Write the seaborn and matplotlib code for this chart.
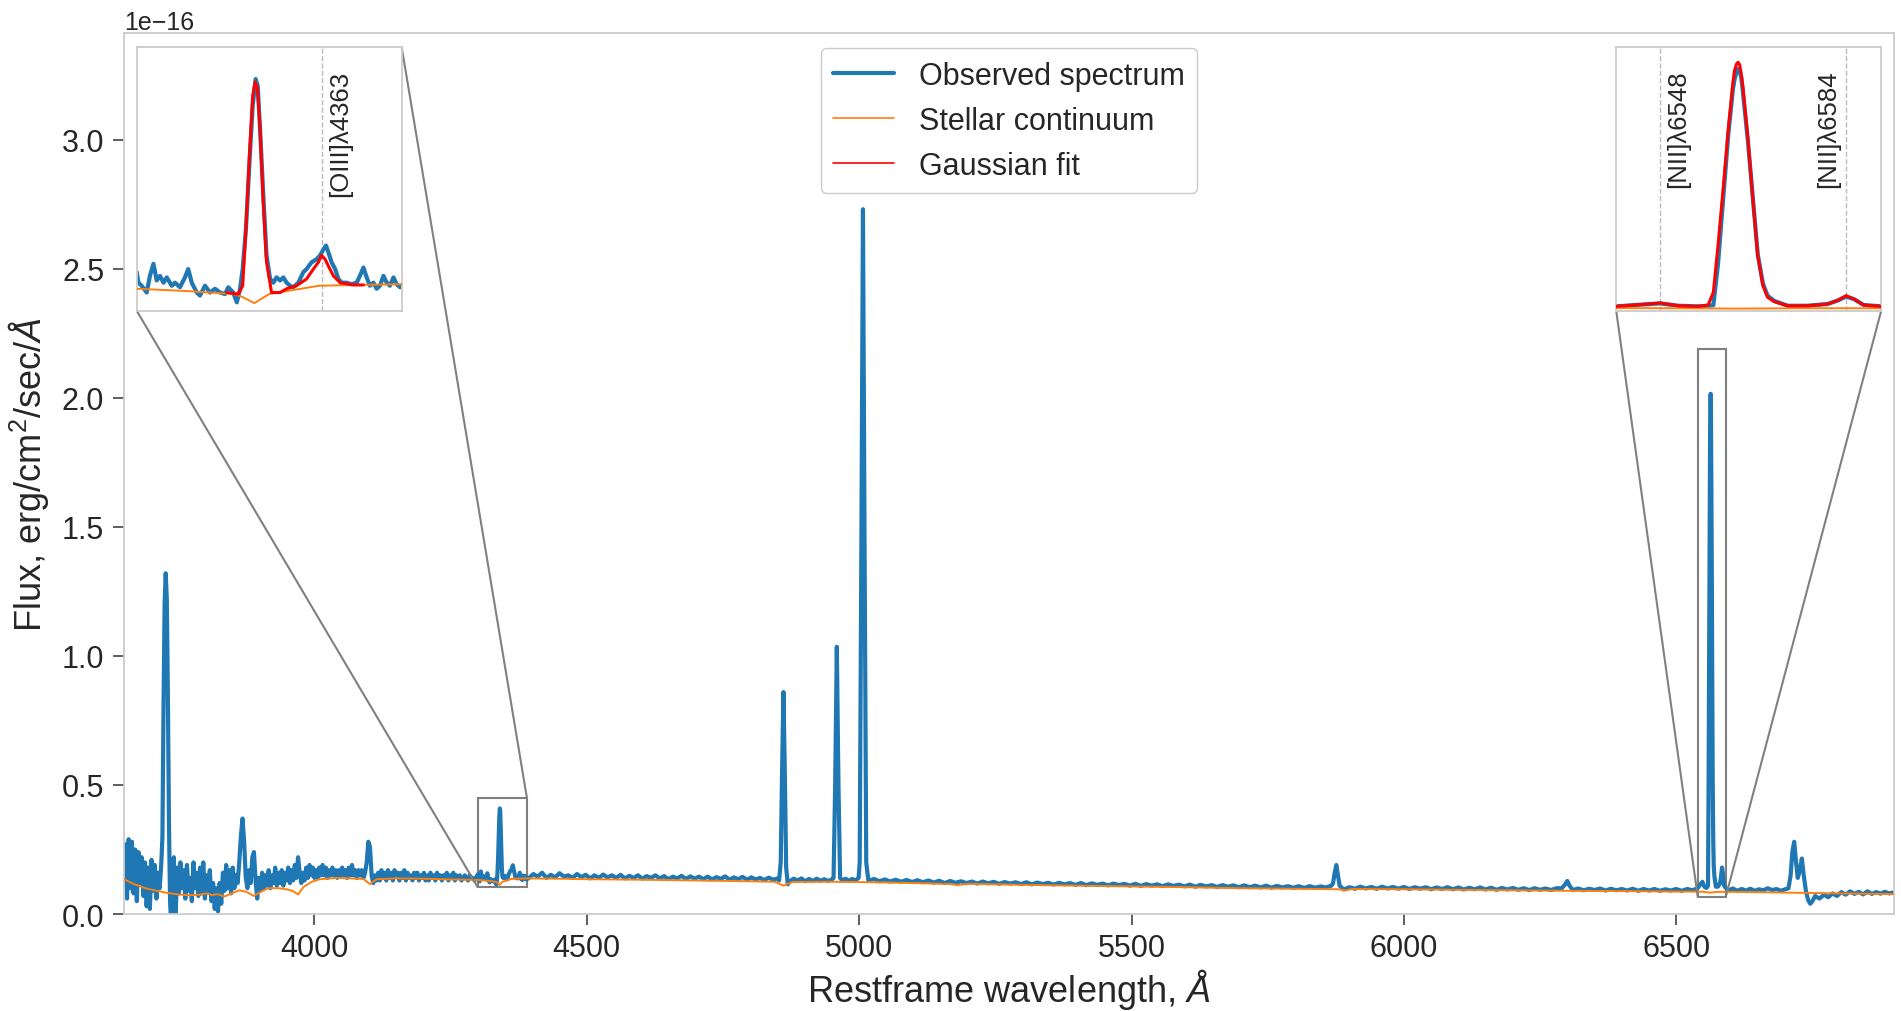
import numpy as np
import pandas as pd
import matplotlib
matplotlib.use("Agg")
import matplotlib.pyplot as plt
import seaborn as sns
from matplotlib.lines import Line2D
from mpl_toolkits.axes_grid1.inset_locator import mark_inset

SCALE = 1e-16  # flux unit

# ---------------- observed spectrum (flux in 1e-16 units) ----------------
# gridded segments: (start wavelength, step, flux values)
blue_3650 = [0.12, 0.27, 0.06, 0.29, 0.10, 0.28, 0.08, 0.25, 0.05, 0.24, 0.12, 0.22,
             0.07, 0.20, 0.03, 0.18, 0.02, 0.21, 0.09, 0.19, 0.06, 0.16, 0.10, 0.20]
oii_wave = [3721, 3723, 3725, 3727, 3729, 3731, 3733, 3735, 3737]
oii_flux = [0.30, 0.80, 1.20, 1.32, 1.22, 0.85, 0.35, 0.05, -0.04]
blue_3739 = [0.15, 0.22, -0.03, 0.18, 0.08, 0.20, 0.10, 0.17, 0.06, 0.19,
             0.09, 0.14, 0.05, 0.20, 0.10, 0.16, 0.07, 0.18, 0.08, 0.20,
             0.06, 0.15, 0.09, 0.17, 0.05, 0.12, 0.02, 0.10, 0.01, 0.12,
             0.04, 0.16, 0.09, 0.19, 0.10, 0.17, 0.08, 0.18, 0.10, 0.15,
             0.12, 0.20, 0.30, 0.37, 0.28, 0.14, 0.10, 0.17, 0.12, 0.22,
             0.24, 0.13, 0.06, 0.14, 0.09, 0.16, 0.10, 0.15, 0.11, 0.17,
             0.10, 0.15, 0.12, 0.18, 0.11, 0.16, 0.12, 0.17, 0.11, 0.16,
             0.13, 0.18, 0.12, 0.17, 0.13, 0.19, 0.14, 0.22, 0.16, 0.12,
             0.16, 0.13, 0.18, 0.14, 0.19, 0.15, 0.18, 0.14, 0.17, 0.14,
             0.18, 0.15, 0.19, 0.15, 0.18, 0.14, 0.17, 0.15, 0.18, 0.15,
             0.17, 0.14, 0.17, 0.15, 0.18, 0.15, 0.17, 0.14, 0.18, 0.15,
             0.19, 0.15, 0.17, 0.14, 0.17, 0.15, 0.17, 0.14, 0.16, 0.20,
             0.28, 0.26, 0.15, 0.12, 0.15, 0.13, 0.16, 0.13, 0.17, 0.14,
             0.16, 0.13, 0.17, 0.14, 0.16, 0.13, 0.17, 0.15, 0.16, 0.13,
             0.16, 0.14, 0.17, 0.13, 0.16, 0.14, 0.15, 0.13, 0.16, 0.14,
             0.16, 0.13, 0.15, 0.14, 0.16, 0.13, 0.15, 0.13, 0.16, 0.14,
             0.15, 0.13, 0.16, 0.14, 0.15, 0.13, 0.15, 0.14, 0.16, 0.13,
             0.15, 0.14, 0.16, 0.13, 0.15, 0.14, 0.15, 0.13, 0.14, 0.15,
             0.14, 0.13, 0.15, 0.14, 0.14, 0.13, 0.14]
# [OIII]4363 / H-gamma zoom region
hg_wave = [4300.0, 4300.6, 4301.7, 4303.4, 4304.5, 4305.7, 4306.8, 4307.9, 4309.1, 4310.2,
           4311.9, 4313.0, 4314.7, 4316.4, 4317.5, 4318.7, 4320.4, 4321.5, 4323.2, 4324.9,
           4326.6, 4328.3, 4330.0, 4331.1, 4332.8, 4334.0, 4335.1, 4336.0, 4337.1, 4338.3,
           4339.4, 4340.4, 4341.1, 4341.9, 4343.0, 4344.1, 4345.3, 4346.4, 4347.5, 4348.7,
           4349.8, 4350.9, 4352.1, 4353.2, 4354.9, 4356.6, 4357.7, 4359.4, 4361.1, 4362.3,
           4363.4, 4364.3, 4365.1, 4366.2, 4367.4, 4368.5, 4369.6, 4371.3, 4373.0, 4374.7,
           4375.8, 4377.0, 4378.1, 4379.2, 4380.4, 4381.5, 4382.6, 4383.8, 4384.9, 4386.0,
           4387.2, 4388.3, 4389.4]
hg_flux = [0.154, 0.140, 0.136, 0.127, 0.149, 0.165, 0.143, 0.149, 0.140, 0.147,
           0.136, 0.140, 0.134, 0.147, 0.158, 0.140, 0.127, 0.123, 0.136, 0.127,
           0.132, 0.127, 0.125, 0.134, 0.127, 0.114, 0.132, 0.158, 0.211, 0.299,
           0.374, 0.409, 0.400, 0.343, 0.255, 0.176, 0.145, 0.140, 0.147, 0.143,
           0.147, 0.140, 0.136, 0.134, 0.140, 0.154, 0.158, 0.167, 0.171, 0.176,
           0.184, 0.189, 0.180, 0.167, 0.158, 0.145, 0.140, 0.140, 0.138, 0.140,
           0.149, 0.160, 0.147, 0.136, 0.140, 0.132, 0.136, 0.149, 0.140, 0.136,
           0.147, 0.138, 0.134]
blue_4394 = [0.140, 0.155, 0.145, 0.160, 0.140, 0.152, 0.142, 0.158, 0.145, 0.150,
             0.140, 0.155, 0.143, 0.152, 0.138, 0.150, 0.140, 0.153, 0.142, 0.150,
             0.140, 0.152, 0.138, 0.148, 0.140, 0.150, 0.137, 0.147, 0.140, 0.150,
             0.138, 0.147, 0.135, 0.145, 0.138, 0.148, 0.136, 0.146, 0.137, 0.145,
             0.135, 0.145, 0.134, 0.143, 0.136, 0.146, 0.133, 0.142, 0.135, 0.144,
             0.133, 0.142, 0.134, 0.140, 0.132, 0.141, 0.133, 0.138]
hb_wave = [4853, 4856, 4858.5, 4861, 4863.5, 4866, 4869]
hb_flux = [0.13, 0.20, 0.55, 0.86, 0.55, 0.18, 0.115]
blue_4873 = [0.128, 0.137, 0.130, 0.138, 0.127, 0.136, 0.128, 0.137, 0.129, 0.135, 0.128, 0.134]
o3a_wave = [4953, 4956, 4959, 4962, 4965]
o3a_flux = [0.14, 0.50, 1.035, 0.50, 0.14]
blue_4969 = [0.130, 0.137, 0.128, 0.136, 0.130, 0.140]
o3b_wave = [5001, 5004, 5007, 5010, 5013]
o3b_flux = [0.20, 1.40, 2.73, 1.40, 0.20]
blue_5017 = [0.128, 0.136, 0.127, 0.134, 0.126, 0.133, 0.125, 0.132, 0.124, 0.131,
             0.123, 0.130, 0.122, 0.129, 0.120, 0.128, 0.121, 0.127, 0.120, 0.126,
             0.118, 0.126, 0.119, 0.125, 0.117, 0.124, 0.118, 0.123, 0.116, 0.123,
             0.115, 0.122, 0.116, 0.121, 0.114, 0.121, 0.115, 0.120, 0.113, 0.120,
             0.112, 0.119, 0.113, 0.118, 0.111, 0.118, 0.112, 0.117, 0.110, 0.117,
             0.109, 0.116, 0.110, 0.115, 0.108, 0.115, 0.109, 0.114, 0.107, 0.114,
             0.106, 0.113, 0.107, 0.112, 0.105, 0.112, 0.106, 0.111, 0.104, 0.111,
             0.104, 0.110, 0.103, 0.110, 0.102, 0.109, 0.103, 0.108, 0.102, 0.108,
             0.101, 0.108, 0.102, 0.107, 0.103, 0.110]
hei_wave = [5870, 5873, 5876, 5879, 5882]
hei_flux = [0.12, 0.16, 0.19, 0.15, 0.11]
blue_5890 = [0.095, 0.104, 0.098, 0.106, 0.099, 0.105, 0.098, 0.106, 0.099, 0.105,
             0.098, 0.105, 0.097, 0.104, 0.098, 0.104, 0.096, 0.103, 0.097, 0.104,
             0.096, 0.103, 0.095, 0.102, 0.096, 0.103, 0.095, 0.102, 0.094, 0.101,
             0.095, 0.101, 0.094, 0.100, 0.093, 0.100, 0.094, 0.099, 0.093, 0.100,
             0.100]
oi_wave = [6296, 6300, 6304]
oi_flux = [0.115, 0.128, 0.110]
blue_6310 = [0.093, 0.099, 0.092, 0.098, 0.093, 0.099, 0.091, 0.098, 0.092, 0.097,
             0.091, 0.098, 0.090, 0.097, 0.091, 0.097, 0.090, 0.096, 0.091, 0.097,
             0.090, 0.097, 0.092]
# H-alpha + [NII] zoom region
ha_wave = [6539.5, 6543.2, 6548.0, 6551.5, 6555.4, 6557.3, 6558.3, 6559.2, 6560.2, 6561.2,
           6562.1, 6562.4, 6562.8, 6563.1, 6563.4, 6563.7, 6564.0, 6565.0, 6566.0, 6566.9,
           6567.9, 6568.8, 6570.1, 6572.7, 6576.5, 6580.4, 6582.3, 6584.0, 6585.5, 6587.4,
           6590.8]
ha_flux = [0.101, 0.112, 0.125, 0.106, 0.101, 0.106, 0.110, 0.440, 0.960, 1.490,
           1.854, 1.930, 1.990, 2.015, 2.000, 1.950, 1.840, 1.430, 0.950, 0.520,
           0.285, 0.187, 0.145, 0.106, 0.106, 0.120, 0.147, 0.180, 0.160, 0.112,
           0.101]
blue_6596 = [0.092, 0.099, 0.090, 0.097, 0.091, 0.098, 0.090, 0.096, 0.092, 0.100,
             0.093, 0.097, 0.090, 0.096]
sii_wave = [6706, 6710, 6713, 6716.5, 6720, 6723, 6727, 6730.5, 6734, 6738, 6742, 6746, 6750]
sii_flux = [0.10, 0.15, 0.24, 0.28, 0.20, 0.14, 0.17, 0.215, 0.15, 0.09, 0.055, 0.04, 0.05]
blue_6755 = [0.070, 0.060, 0.075, 0.065, 0.080, 0.070, 0.085, 0.075, 0.088, 0.078,
             0.086, 0.076, 0.088, 0.078, 0.085, 0.079, 0.086, 0.080, 0.084]

# ---------------- stellar continuum ----------------
cont_wave = [3650, 3670, 3690, 3710, 3730, 3750, 3770, 3790, 3800, 3812, 3822, 3835, 3848,
             3862, 3875, 3889, 3902, 3915, 3935, 3950, 3960, 3970, 3980, 3995, 4010, 4040,
             4070, 4090, 4102, 4114, 4150, 4200, 4250, 4300, 4317, 4333, 4336, 4340, 4342,
             4345, 4351, 4362, 4374, 4390, 4450, 4500, 4600, 4700, 4800, 4845, 4861, 4877,
             4950, 5000, 5100, 5170, 5180, 5200, 5300, 5400, 5500, 5600, 5700, 5800, 5880,
             5892, 5905, 6000, 6100, 6200, 6300, 6400, 6500, 6540, 6550, 6563, 6575, 6600,
             6700, 6800, 6900]
cont_flux = [0.135, 0.115, 0.100, 0.090, 0.082, 0.076, 0.073, 0.075, 0.080, 0.074, 0.077,
             0.068, 0.080, 0.092, 0.086, 0.070, 0.087, 0.100, 0.100, 0.095, 0.090, 0.076,
             0.105, 0.125, 0.135, 0.140, 0.138, 0.136, 0.116, 0.135, 0.138, 0.137, 0.134,
             0.132, 0.129, 0.125, 0.121, 0.113, 0.118, 0.125, 0.129, 0.136, 0.137, 0.138,
             0.137, 0.135, 0.133, 0.130, 0.127, 0.125, 0.110, 0.124, 0.125, 0.124, 0.120,
             0.116, 0.112, 0.117, 0.113, 0.110, 0.107, 0.104, 0.100, 0.098, 0.096, 0.092,
             0.097, 0.096, 0.094, 0.092, 0.090, 0.089, 0.087, 0.087, 0.086, 0.083, 0.086,
             0.086, 0.083, 0.080, 0.077]

# ---------------- Gaussian fits (zoom panels) ----------------
fit1_wave = [4330.6, 4334.5, 4336.0, 4337.1, 4338.3, 4339.4, 4340.2, 4341.0, 4341.9, 4343.0,
             4344.1, 4345.8, 4348.7, 4350.9, 4354.3, 4357.7, 4360.0, 4361.7, 4362.8, 4364.0,
             4365.1, 4366.8, 4369.1, 4373.6, 4377.0]
fit1_flux = [0.127, 0.125, 0.136, 0.211, 0.308, 0.387, 0.405, 0.398, 0.343, 0.246,
             0.167, 0.127, 0.127, 0.132, 0.136, 0.145, 0.158, 0.167, 0.176, 0.171,
             0.162, 0.149, 0.140, 0.137, 0.137]
fit2_wave = list(ha_wave)
fit2_flux = [0.101, 0.112, 0.128, 0.106, 0.101, 0.112, 0.214, 0.590, 1.047, 1.531,
             1.908, 2.002, 2.056, 2.069, 2.048, 1.975, 1.881, 1.451, 0.940, 0.510,
             0.268, 0.174, 0.139, 0.106, 0.106, 0.120, 0.147, 0.187, 0.160, 0.112,
             0.101]

# zoom windows and line markers
zoom1_x, zoom1_y = (4300, 4390), (0.103, 0.451)
zoom2_x, zoom2_y = (6539.5, 6590.8), (0.066, 2.19)
marks1 = [(4363, "[OIII]λ4363", "left")]
marks2 = [(6548, "[NII]λ6548", "left"), (6584, "[NII]λ6584", "right")]
legend_labels = ["Observed spectrum", "Stellar continuum", "Gaussian fit"]


def grid(start, step, vals):
    return list(start + step * np.arange(len(vals))), list(vals)


pieces = [
    grid(3650, 3, blue_3650), (oii_wave, oii_flux), grid(3739, 3, blue_3739),
    (hg_wave, hg_flux), grid(4394, 8, blue_4394), (hb_wave, hb_flux),
    grid(4873, 7, blue_4873), (o3a_wave, o3a_flux), grid(4969, 6, blue_4969),
    (o3b_wave, o3b_flux), grid(5017, 10, blue_5017), (hei_wave, hei_flux),
    grid(5890, 10, blue_5890), (oi_wave, oi_flux), grid(6310, 10, blue_6310),
    (ha_wave, ha_flux), grid(6596, 8, blue_6596), (sii_wave, sii_flux),
    grid(6755, 8, blue_6755),
]
obs_wave = np.concatenate([np.asarray(p[0], float) for p in pieces])
obs_flux = np.concatenate([np.asarray(p[1], float) for p in pieces])

obs = pd.DataFrame({"wave": obs_wave, "flux": obs_flux * SCALE})
cont = pd.DataFrame({"wave": cont_wave, "flux": np.asarray(cont_flux) * SCALE})
fit1 = pd.DataFrame({"wave": fit1_wave, "flux": np.asarray(fit1_flux) * SCALE})
fit2 = pd.DataFrame({"wave": fit2_wave, "flux": np.asarray(fit2_flux) * SCALE})

# ---------------- style ----------------
sns.set_theme(style="white")
plt.rcParams["font.family"] = ["Liberation Sans", "DejaVu Sans"]
plt.rcParams["mathtext.fontset"] = "custom"
plt.rcParams["mathtext.rm"] = "Liberation Sans"
plt.rcParams["mathtext.it"] = "Liberation Sans:italic"
plt.rcParams["axes.unicode_minus"] = True

BLUE, ORANGE, RED = "#1f77b4", "#ff7f0e", "#ff0000"
SPINE = "#cccccc"

fig = plt.figure(figsize=(19.01, 10.12), dpi=100)
ax = fig.add_axes([0.0651, 0.0958, 0.9313, 0.8706])

sns.lineplot(data=obs, x="wave", y="flux", ax=ax, color=BLUE, lw=3,
             estimator=None, zorder=2)
sns.lineplot(data=cont, x="wave", y="flux", ax=ax, color=ORANGE, lw=1.4,
             estimator=None, zorder=3)

ax.set_xlim(3650, 6900)
ax.set_ylim(0, 1.25 * max(obs_flux) * SCALE)
ax.set_xlabel("Restframe wavelength, $Å$", fontsize=26, labelpad=2)
ax.set_ylabel("Flux, erg/cm$^2$/sec/$Å$", fontsize=26, labelpad=8)
ax.tick_params(axis="both", labelsize=22, direction="out", length=8, width=1.2,
               color="#444444", pad=6, bottom=True, left=True)
ax.yaxis.get_offset_text().set_fontsize(18)
for s in ax.spines.values():
    s.set_color(SPINE)
    s.set_linewidth(1.3)


def make_inset(bounds, xlim, ylim, fit, marks, locs):
    ins = ax.inset_axes(bounds)
    sns.lineplot(data=obs, x="wave", y="flux", ax=ins, color=BLUE, lw=3,
                 estimator=None, zorder=2)
    sns.lineplot(data=cont, x="wave", y="flux", ax=ins, color=ORANGE, lw=1.4,
                 estimator=None, zorder=3)
    sns.lineplot(data=fit, x="wave", y="flux", ax=ins, color=RED, lw=2.2,
                 estimator=None, zorder=4)
    ins.set_xlim(*xlim)
    ins.set_ylim(ylim[0] * SCALE, ylim[1] * SCALE)
    ins.set_xticks([])
    ins.set_yticks([])
    ins.set_xlabel("")
    ins.set_ylabel("")
    for s in ins.spines.values():
        s.set_color(SPINE)
        s.set_linewidth(1.3)
    for wl, label, side in marks:
        ins.axvline(wl, color="#bbbbbb", lw=1, ls="--", zorder=1)
        dx = 4 if side == "left" else -4
        ins.annotate(label, xy=(wl, 0.915), xycoords=("data", "axes fraction"),
                     xytext=(dx, 0), textcoords="offset points", rotation=90,
                     ha=side, va="top", fontsize=18.5, color="#262626")
    mark_inset(ax, ins, loc1=locs[0], loc2=locs[1], fc="none", ec="0.5", lw=1.5)
    return ins


ins1 = make_inset([0.0073, 0.6848, 0.1497, 0.299], zoom1_x, zoom1_y, fit1, marks1, (3, 1))
ins2 = make_inset([0.8430, 0.6848, 0.1497, 0.299], zoom2_x, zoom2_y, fit2, marks2, (3, 4))

handles = [Line2D([], [], color=BLUE, lw=3),
           Line2D([], [], color=ORANGE, lw=1.2),
           Line2D([], [], color=RED, lw=1.2)]
leg = ax.legend(handles, legend_labels, loc="upper center", fontsize=22,
                frameon=True, fancybox=True, edgecolor=SPINE, framealpha=1)
leg.set_zorder(10)

fig.savefig("out.png", dpi=100)
